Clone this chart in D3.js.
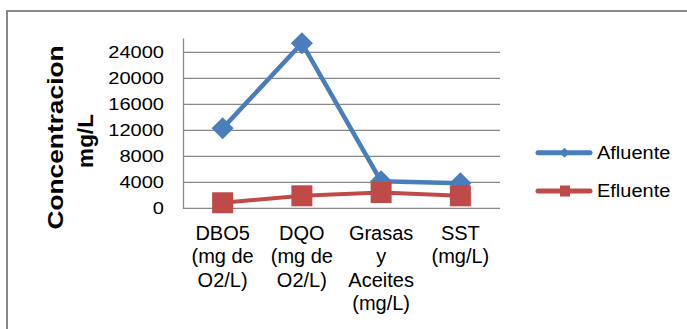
<!DOCTYPE html>
<html>
<head>
<meta charset="utf-8">
<script src="https://cdn.jsdelivr.net/npm/d3@7"></script>
<style>
  html, body { margin: 0; padding: 0; background: #fff; }
  svg { display: block; font-family: "Liberation Sans", Arial, sans-serif; }
</style>
</head>
<body>
<svg id="chart" width="687" height="329"></svg>
<script>
// Wastewater parameters, influent vs effluent
const categories = ["DBO5\n(mg de\nO2/L)", "DQO\n(mg de\nO2/L)", "Grasas\ny\nAceites\n(mg/L)", "SST\n(mg/L)"];
const afluente = [12300, 25400, 4150, 3850];
const efluente = [850, 1920, 2430, 1920];
const yTicks = [0, 4000, 8000, 12000, 16000, 20000, 24000];
const seriesNames = ["Afluente", "Efluente"];
const yTitle = ["Concentracion", "mg/L"];

const W = 687, H = 329;
const plot = { left: 183, right: 500, top: 38, bottom: 208.3 };
const colors = ["#4a7ebb", "#be4b48"];

const svg = d3.select("#chart");

// outer chart frame
svg.append("rect")
  .attr("x", 7).attr("y", 11)
  .attr("width", W).attr("height", H)
  .attr("fill", "#fff")
  .attr("stroke", "#888").attr("stroke-width", 2);

const x = d3.scaleBand().domain(d3.range(categories.length)).range([plot.left, plot.right]);
const cx = i => x(i) + x.bandwidth() / 2;
const y = d3.scaleLinear().domain([0, 26200]).range([plot.bottom, plot.top]);

// horizontal gridlines
svg.append("g").selectAll("line")
  .data(yTicks.filter(t => t > 0))
  .join("line")
  .attr("x1", plot.left).attr("x2", plot.right)
  .attr("y1", d => y(d)).attr("y2", d => y(d))
  .attr("stroke", "#888").attr("stroke-width", 1.3);

// category axis line
svg.append("line")
  .attr("x1", plot.left).attr("x2", plot.right)
  .attr("y1", y(0)).attr("y2", y(0))
  .attr("stroke", "#888").attr("stroke-width", 1.3);

// value axis
const tickScale = 1.18;
const yAxis = svg.append("g")
  .attr("transform", `translate(${plot.left},0)`)
  .call(d3.axisLeft(y).tickValues(yTicks).tickSize(0).tickSizeOuter(0).tickPadding(19).tickFormat(d3.format("d")));
yAxis.select(".domain").attr("stroke", "#888").attr("stroke-width", 1.3);
yAxis.selectAll("text")
  .attr("font-size", 17)
  .attr("font-family", "'Liberation Sans', Arial, sans-serif")
  .attr("fill", "#000")
  .attr("x", -19 / tickScale)
  .attr("dy", 5.5)
  .attr("transform", `scale(${tickScale},1)`);

// category labels, one tspan per line
const catG = svg.append("g").attr("font-size", 20).attr("fill", "#000").attr("text-anchor", "middle");
categories.forEach((c, i) => {
  const t = catG.append("text").attr("x", cx(i)).attr("y", 240);
  c.split("\n").forEach((line, k) => {
    t.append("tspan").attr("x", cx(i)).attr("dy", k === 0 ? 0 : 23.3).text(line);
  });
});

// value axis title (two rotated lines)
const titleScale = [1.17, 1.0];
const titlePos = [{ x: 63.3, y: 137.5 }, { x: 93, y: 141 }];
yTitle.forEach((s, i) => {
  svg.append("text")
    .attr("transform", `translate(${titlePos[i].x},${titlePos[i].y}) rotate(-90) scale(${titleScale[i]},1)`)
    .attr("text-anchor", "middle")
    .attr("font-size", 22.5)
    .attr("font-weight", "bold")
    .attr("fill", "#000")
    .text(s);
});

const line = d3.line().x((d, i) => cx(i)).y(d => y(d));
const diamond = (px, py, r) => `M${px},${py - r}L${px + r},${py}L${px},${py + r}L${px - r},${py}Z`;

// Afluente series
svg.append("path").datum(afluente)
  .attr("d", line).attr("fill", "none")
  .attr("stroke", colors[0]).attr("stroke-width", 4.5)
  .attr("stroke-linejoin", "round").attr("stroke-linecap", "round");
svg.append("g").selectAll("path").data(afluente).join("path")
  .attr("d", (d, i) => diamond(cx(i), y(d), 11))
  .attr("fill", colors[0]);

// Efluente series
svg.append("path").datum(efluente)
  .attr("d", line).attr("fill", "none")
  .attr("stroke", colors[1]).attr("stroke-width", 4)
  .attr("stroke-linejoin", "round").attr("stroke-linecap", "round");
svg.append("g").selectAll("rect").data(efluente).join("rect")
  .attr("x", (d, i) => cx(i) - 10.5).attr("y", d => y(d) - 10.5)
  .attr("width", 21).attr("height", 21)
  .attr("fill", colors[1]);

// legend
const legY = [152.7, 191];
const legG = svg.append("g");
seriesNames.forEach((name, i) => {
  legG.append("line")
    .attr("x1", 538).attr("x2", 590)
    .attr("y1", legY[i]).attr("y2", legY[i])
    .attr("stroke", colors[i]).attr("stroke-width", 5)
    .attr("stroke-linecap", "round");
  if (i === 0) {
    legG.append("path").attr("d", diamond(564.5, legY[i], 5)).attr("fill", colors[i]);
  } else {
    legG.append("rect")
      .attr("x", 560).attr("y", legY[i] - 5.5)
      .attr("width", 10).attr("height", 11)
      .attr("fill", colors[i]);
  }
  legG.append("text")
    .attr("transform", `translate(597,${legY[i] + 5.8}) scale(1.08,1)`)
    .attr("font-size", 18.5)
    .attr("fill", "#000")
    .text(name);
});
</script>
</body>
</html>
